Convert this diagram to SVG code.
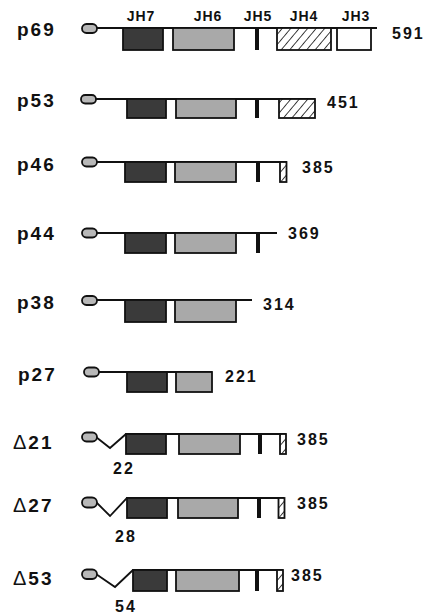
<svg xmlns="http://www.w3.org/2000/svg" width="427" height="615" viewBox="0 0 427 615">
<defs>
<pattern id="hatch" patternUnits="userSpaceOnUse" width="6.5" height="6.5" patternTransform="rotate(40)">
<rect width="6.5" height="6.5" fill="#fff"/>
<line x1="0" y1="0" x2="0" y2="6.5" stroke="#111" stroke-width="1.6"/>
</pattern>
</defs>
<style>
.bb{stroke:#111;stroke-width:1.8;fill:none}
.ov{fill:#b8b8b8;stroke:#111;stroke-width:1.8}
.h7{fill:#3a3a3a;stroke:#111;stroke-width:1.8}
.h6{fill:#a9a9a9;stroke:#111;stroke-width:1.8}
.h5{fill:#111}
.h4{fill:url(#hatch);stroke:#111;stroke-width:1.8}
.h3{fill:#fff;stroke:#111;stroke-width:1.8}
.lab{font-family:"Liberation Sans",Arial,sans-serif;font-weight:bold;font-size:19px;letter-spacing:2px;fill:#111}
.num{font-family:"Liberation Sans",Arial,sans-serif;font-weight:bold;font-size:16px;letter-spacing:2px;fill:#111}
.jh{font-family:"Liberation Sans",Arial,sans-serif;font-weight:bold;font-size:14px;letter-spacing:1px;fill:#111;text-anchor:middle}
.dl{font-weight:normal;font-size:20px}
</style>

<g id="headers">
<text class="jh" x="141" y="21">JH7</text>
<text class="jh" x="208" y="21">JH6</text>
<text class="jh" x="258" y="21">JH5</text>
<text class="jh" x="304" y="21">JH4</text>
<text class="jh" x="356" y="21">JH3</text>
</g>

<g id="p69">
<text class="lab" x="17" y="36">p69</text>
<line class="bb" x1="97" y1="28" x2="377" y2="28"/>
<rect class="ov" x="82" y="24" width="15" height="9" rx="4.5"/>
<rect class="h7" x="123" y="28" width="40" height="22"/>
<rect class="h6" x="173" y="28" width="61" height="22"/>
<rect class="h5" x="255" y="28" width="4" height="22"/>
<rect class="h4" x="277" y="28" width="54" height="22"/>
<rect class="h3" x="337" y="28" width="34" height="22"/>
<text class="num" x="392" y="39">591</text>
</g>

<g id="p53">
<text class="lab" x="17" y="107">p53</text>
<line class="bb" x1="96" y1="99" x2="315" y2="99"/>
<rect class="ov" x="81" y="95" width="15" height="8.5" rx="4.2"/>
<rect class="h7" x="127" y="99" width="39" height="19"/>
<rect class="h6" x="176" y="99" width="60" height="19"/>
<rect class="h5" x="255" y="99" width="4" height="19"/>
<rect class="h4" x="279" y="99" width="36" height="19"/>
<text class="num" x="327" y="107.5">451</text>
</g>

<g id="p46">
<text class="lab" x="17" y="171">p46</text>
<line class="bb" x1="97" y1="162" x2="287" y2="162"/>
<rect class="ov" x="82" y="157.5" width="15" height="9" rx="4.5"/>
<rect class="h7" x="125" y="162" width="41" height="20"/>
<rect class="h6" x="175" y="162" width="61" height="20"/>
<rect class="h5" x="256" y="162" width="4" height="20"/>
<rect class="h4" x="280" y="162" width="6.5" height="20"/>
<text class="num" x="302" y="172.5">385</text>
</g>

<g id="p44">
<text class="lab" x="17" y="240">p44</text>
<line class="bb" x1="97" y1="233" x2="277" y2="233"/>
<rect class="ov" x="82" y="228.5" width="15" height="9" rx="4.5"/>
<rect class="h7" x="125" y="233" width="41" height="20"/>
<rect class="h6" x="175" y="233" width="61" height="20"/>
<rect class="h5" x="256" y="233" width="4" height="20"/>
<text class="num" x="288" y="239">369</text>
</g>

<g id="p38">
<text class="lab" x="17" y="308.5">p38</text>
<line class="bb" x1="97" y1="300" x2="252" y2="300"/>
<rect class="ov" x="82" y="296" width="15" height="9" rx="4.5"/>
<rect class="h7" x="125" y="300" width="41" height="22"/>
<rect class="h6" x="175" y="300" width="61" height="22"/>
<text class="num" x="263" y="309.5">314</text>
</g>

<g id="p27">
<text class="lab" x="18" y="380.5">p27</text>
<line class="bb" x1="99" y1="372" x2="212" y2="372"/>
<rect class="ov" x="84" y="367.5" width="15" height="9" rx="4.5"/>
<rect class="h7" x="127" y="372" width="40" height="20"/>
<rect class="h6" x="176" y="372" width="36" height="20"/>
<text class="num" x="225" y="382">221</text>
</g>

<g id="d21">
<text class="lab" x="13" y="448.5"><tspan class="dl">Δ</tspan>21</text>
<polyline class="bb" points="96,437 110,448 126,434 286,434"/>
<rect class="ov" x="82" y="432.5" width="15" height="9" rx="4.5"/>
<rect class="h7" x="126" y="434" width="40" height="20"/>
<rect class="h6" x="179" y="434" width="61" height="20"/>
<rect class="h5" x="258" y="434" width="4" height="20"/>
<rect class="h4" x="280" y="434" width="6" height="20"/>
<text class="num" x="297" y="445">385</text>
<text class="num" x="113" y="473.5">22</text>
</g>

<g id="d27">
<text class="lab" x="13" y="512"><tspan class="dl">Δ</tspan>27</text>
<polyline class="bb" points="96,502 110,516 127,498 284,498"/>
<rect class="ov" x="82" y="497.5" width="15" height="10" rx="5"/>
<rect class="h7" x="127" y="498" width="40" height="20"/>
<rect class="h6" x="178" y="498" width="60" height="20"/>
<rect class="h5" x="257" y="498" width="4" height="20"/>
<rect class="h4" x="278.5" y="498" width="6" height="20"/>
<text class="num" x="297" y="509">385</text>
<text class="num" x="115" y="541.5">28</text>
</g>

<g id="d53">
<text class="lab" x="13" y="585"><tspan class="dl">Δ</tspan>53</text>
<polyline class="bb" points="96,574 115,587 133,570 283,570"/>
<rect class="ov" x="82" y="569.5" width="15" height="9.5" rx="4.7"/>
<rect class="h7" x="133" y="570" width="34" height="21"/>
<rect class="h6" x="176" y="570" width="63" height="21"/>
<rect class="h5" x="255" y="570" width="4" height="21"/>
<rect class="h4" x="277" y="570" width="6" height="21"/>
<text class="num" x="291" y="580.5">385</text>
<text class="num" x="115" y="612">54</text>
</g>
</svg>
